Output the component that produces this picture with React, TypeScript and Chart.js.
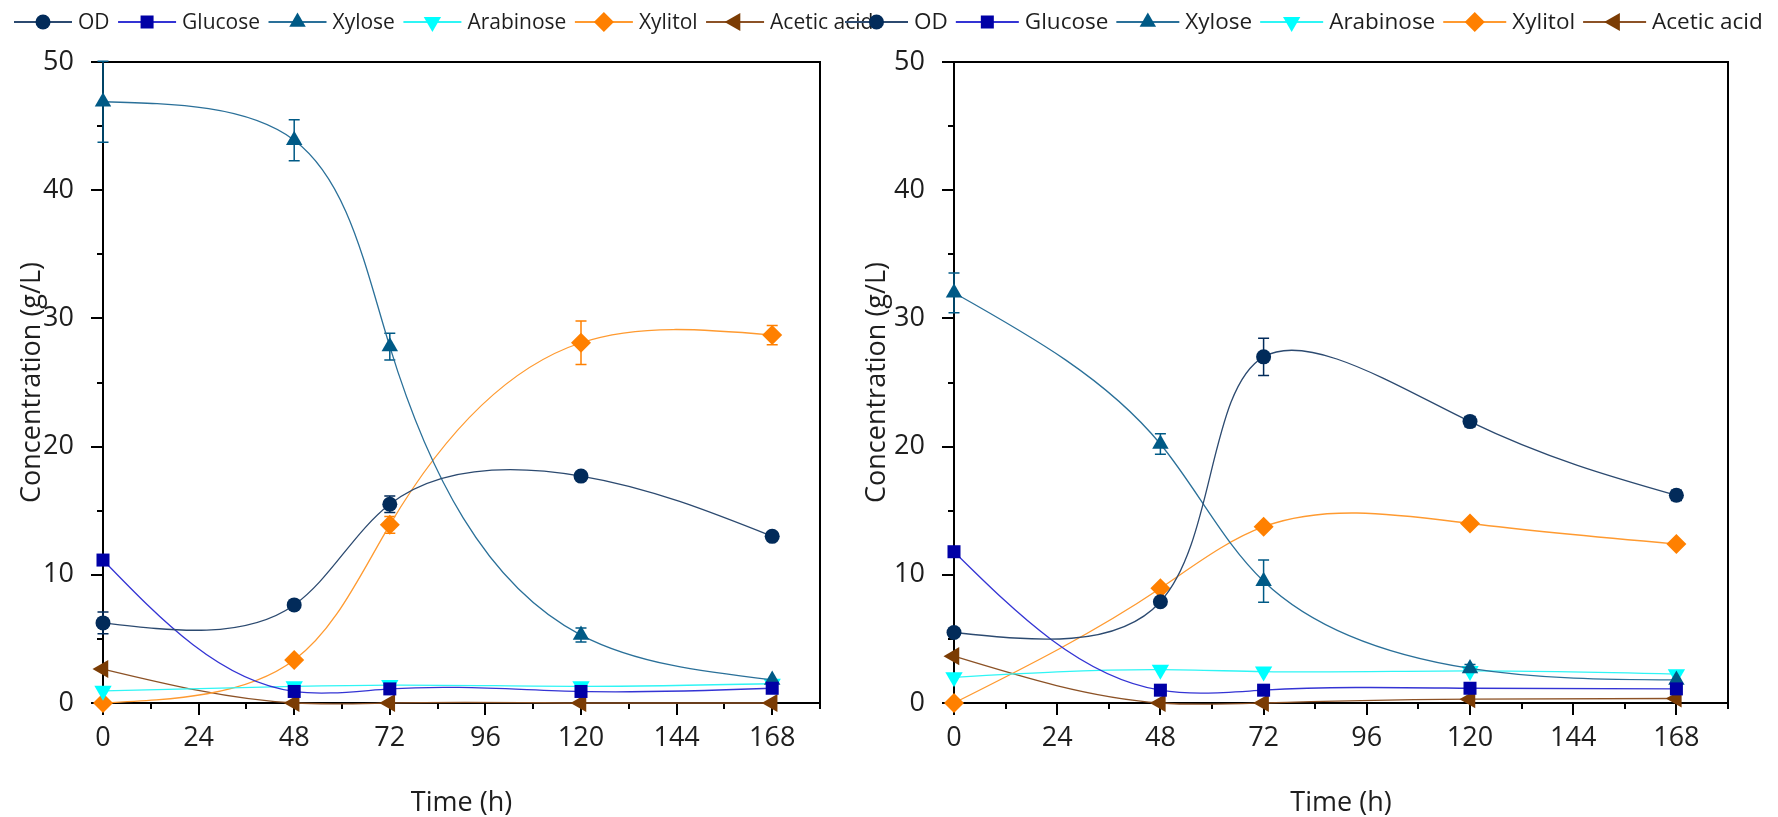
import React, { useEffect, useRef } from 'react';
import { Chart, registerables } from 'chart.js';

Chart.register(...registerables);

// ---------- data ----------
const TIMES = [0, 48, 72, 120, 168];
const X_TICKS = [0, 24, 48, 72, 96, 120, 144, 168];
const X_MINOR = [12, 36, 60, 84, 108, 132, 156, 180];
const Y_TICKS = [0, 10, 20, 30, 40, 50];
const Y_MINOR = [5, 15, 25, 35, 45];
const SERIES_NAMES = ['OD', 'Glucose', 'Xylose', 'Arabinose', 'Xylitol', 'Acetic acid'];
const X_TITLE = 'Time (h)';
const Y_TITLE = 'Concentration (g/L)';

// left panel
const L_OD = [6.25, 7.65, 15.5, 17.7, 13.0];
const L_OD_ERR = [0.85, 0, 0.65, 0, 0];
const L_GLUCOSE = [11.15, 0.9, 1.1, 0.9, 1.15];
const L_XYLOSE = [46.9, 43.9, 27.8, 5.3, 1.8];
const L_XYLOSE_ERR = [3.15, 1.6, 1.05, 0.55, 0];
const L_ARABINOSE = [0.95, 1.3, 1.4, 1.3, 1.5];
const L_XYLITOL = [0, 3.35, 13.9, 28.1, 28.7];
const L_XYLITOL_ERR = [0, 0, 0.65, 1.7, 0.75];
const L_ACETIC = [2.65, 0, 0, 0, 0];

// right panel
const R_OD = [5.5, 7.9, 27.0, 21.95, 16.2];
const R_OD_ERR = [0.3, 0, 1.45, 0.4, 0.4];
const R_GLUCOSE = [11.8, 1.0, 1.0, 1.15, 1.1];
const R_XYLOSE = [32.0, 20.2, 9.5, 2.7, 1.8];
const R_XYLOSE_ERR = [1.55, 0.8, 1.65, 0.3, 0];
const R_ARABINOSE = [2.0, 2.6, 2.45, 2.5, 2.25];
const R_XYLITOL = [0, 8.95, 13.75, 14.0, 12.4];
const R_ACETIC = [3.65, 0, 0, 0.3, 0.35];

// ---------- styles ----------
const MARKER_COLORS = ['#022b5a', '#0000a6', '#005a86', '#00ffff', '#ff8000', '#7b3c04'];
const LINE_COLORS = ['#2c4a70', '#3434d4', '#2a7099', '#2ff5f5', '#ff9a30', '#8c5226'];
const POINT_STYLES = ['circle', 'rect', 'triangle', 'triangle', 'rectRot', 'triangle'];
const POINT_ROTATIONS = [0, 0, 0, 180, 0, -90];
const POINT_RADII = [7.5, 9.2, 9.5, 10, 10, 10.5];
const FONT = '"Open Sans", "DejaVu Sans", sans-serif';
const TEXT_COLOR = '#1e1e1e';

function drawMarker(ctx: CanvasRenderingContext2D, style: string, rotation: number, r: number, x: number, y: number, color: string) {
  let rad = (rotation * Math.PI) / 180;
  ctx.beginPath();
  if (style === 'circle') {
    ctx.arc(x, y, r, 0, Math.PI * 2);
  } else if (style === 'rect') {
    const s = Math.SQRT1_2 * r;
    ctx.rect(x - s, y - s, 2 * s, 2 * s);
  } else if (style === 'rectRot') {
    ctx.moveTo(x - r, y);
    ctx.lineTo(x, y - r);
    ctx.lineTo(x + r, y);
    ctx.lineTo(x, y + r);
  } else {
    const t = (2 * Math.PI) / 3;
    ctx.moveTo(x + Math.sin(rad) * r, y - Math.cos(rad) * r);
    rad += t;
    ctx.lineTo(x + Math.sin(rad) * r, y - Math.cos(rad) * r);
    rad += t;
    ctx.lineTo(x + Math.sin(rad) * r, y - Math.cos(rad) * r);
  }
  ctx.closePath();
  ctx.fillStyle = color;
  ctx.fill();
}

// natural cubic spline second derivatives for values v over knot spacing h
function naturalM(v: number[], h: number[]): number[] {
  const n = v.length;
  const a: number[] = [], b: number[] = [], c: number[] = [], d: number[] = [];
  for (let i = 1; i < n - 1; i++) {
    a.push(h[i - 1]);
    b.push(2 * (h[i - 1] + h[i]));
    c.push(h[i]);
    d.push(6 * ((v[i + 1] - v[i]) / h[i] - (v[i] - v[i - 1]) / h[i - 1]));
  }
  const m = b.length;
  const M = new Array(n).fill(0);
  if (m === 0) return M;
  for (let i = 1; i < m; i++) {
    const w = a[i] / b[i - 1];
    b[i] -= w * c[i - 1];
    d[i] -= w * d[i - 1];
  }
  const sol = new Array(m).fill(0);
  sol[m - 1] = d[m - 1] / b[m - 1];
  for (let i = m - 2; i >= 0; i--) sol[i] = (d[i] - c[i] * sol[i + 1]) / b[i];
  for (let i = 0; i < m; i++) M[i + 1] = sol[i];
  return M;
}

// parametric (chord-length) natural cubic spline rendering of the connecting line
const splinePlugin = {
  id: 'parametricSpline',
  beforeDatasetDraw(chart: any, args: any) {
    const meta = args.meta;
    const line: any = meta.dataset;
    const pts: any[] = meta.data;
    if (!line || !pts || pts.length < 3) return;
    if (typeof line.updateControlPoints === 'function') line.updateControlPoints(chart.chartArea, meta.indexAxis);
    const n = pts.length;
    const xs = pts.map((p) => p.x);
    const ys = pts.map((p) => p.y);
    const h: number[] = [];
    for (let i = 0; i < n - 1; i++) h.push(Math.max(1e-6, Math.hypot(xs[i + 1] - xs[i], ys[i + 1] - ys[i])));
    const MX = naturalM(xs, h);
    const MY = naturalM(ys, h);
    for (let i = 0; i < n - 1; i++) {
      const sx = (xs[i + 1] - xs[i]) / h[i];
      const sy = (ys[i + 1] - ys[i]) / h[i];
      const dx0 = sx - (h[i] * (2 * MX[i] + MX[i + 1])) / 6;
      const dy0 = sy - (h[i] * (2 * MY[i] + MY[i + 1])) / 6;
      const dx1 = sx + (h[i] * (MX[i] + 2 * MX[i + 1])) / 6;
      const dy1 = sy + (h[i] * (MY[i] + 2 * MY[i + 1])) / 6;
      pts[i].cp2x = xs[i] + (dx0 * h[i]) / 3;
      pts[i].cp2y = ys[i] + (dy0 * h[i]) / 3;
      pts[i + 1].cp1x = xs[i + 1] - (dx1 * h[i]) / 3;
      pts[i + 1].cp1y = ys[i + 1] - (dy1 * h[i]) / 3;
    }
    pts[0].cp1x = xs[0];
    pts[0].cp1y = ys[0];
    pts[n - 1].cp2x = xs[n - 1];
    pts[n - 1].cp2y = ys[n - 1];
    line._pointsUpdated = true;
    line._path = undefined;
  },
};

type PanelCfg = {
  series: number[][];
  errors: (number[] | null)[];
  width: number;
  plotLeft: number;
  plotRight: number;
  yTitleX: number;
  legendStart: number;
  legendLine: number;
  legendGapText: number;
  legendGapAfter: number;
  legendFont: number;
};

function makeChart(canvas: HTMLCanvasElement, cfg: PanelCfg) {
  const H = 817;
  const plotTop = 62;
  const plotBottom = 703;

  const decorPlugin = {
    id: 'decor',
    beforeDatasetsDraw(chart: any) {
      const ctx: CanvasRenderingContext2D = chart.ctx;
      const { left, right, top, bottom } = chart.chartArea;
      const xs = chart.scales.x;
      const ys = chart.scales.y;
      ctx.save();
      ctx.strokeStyle = '#000';
      ctx.lineWidth = 2;
      ctx.strokeRect(left, top, right - left, bottom - top);
      ctx.beginPath();
      Y_TICKS.forEach((v) => {
        const py = Math.round(ys.getPixelForValue(v));
        ctx.moveTo(left - 12, py);
        ctx.lineTo(left, py);
      });
      Y_MINOR.forEach((v) => {
        const py = Math.round(ys.getPixelForValue(v));
        ctx.moveTo(left - 6, py);
        ctx.lineTo(left, py);
      });
      X_TICKS.forEach((v) => {
        const px = Math.round(xs.getPixelForValue(v));
        ctx.moveTo(px, bottom);
        ctx.lineTo(px, bottom + 12);
      });
      X_MINOR.forEach((v) => {
        const px = Math.round(xs.getPixelForValue(v));
        ctx.moveTo(px, bottom);
        ctx.lineTo(px, bottom + 6);
      });
      ctx.stroke();

      // error bars
      cfg.errors.forEach((errs, di) => {
        if (!errs) return;
        ctx.strokeStyle = MARKER_COLORS[di];
        ctx.lineWidth = 1.5;
        ctx.beginPath();
        errs.forEach((e, i) => {
          if (!e) return;
          const v = cfg.series[di][i];
          const px = xs.getPixelForValue(TIMES[i]);
          const p1 = ys.getPixelForValue(v + e);
          const p2 = ys.getPixelForValue(v - e);
          ctx.moveTo(px, p1);
          ctx.lineTo(px, p2);
          ctx.moveTo(px - 5.5, p1);
          ctx.lineTo(px + 5.5, p1);
          ctx.moveTo(px - 5.5, p2);
          ctx.lineTo(px + 5.5, p2);
        });
        ctx.stroke();
      });
      ctx.restore();
    },
    afterDraw(chart: any) {
      const ctx: CanvasRenderingContext2D = chart.ctx;
      const { left, right, top, bottom } = chart.chartArea;
      ctx.save();
      ctx.fillStyle = TEXT_COLOR;
      ctx.font = `27px ${FONT}`;
      ctx.textAlign = 'center';
      ctx.textBaseline = 'middle';
      ctx.fillText(X_TITLE, (left + right) / 2, 803);
      ctx.translate(cfg.yTitleX, (top + bottom) / 2);
      ctx.rotate(-Math.PI / 2);
      ctx.fillText(Y_TITLE, 0, 0);
      ctx.restore();

      // legend
      ctx.save();
      ctx.font = `${cfg.legendFont}px ${FONT}`;
      ctx.textBaseline = 'middle';
      ctx.textAlign = 'left';
      let x = cfg.legendStart;
      const y = 22;
      SERIES_NAMES.forEach((name, i) => {
        ctx.strokeStyle = LINE_COLORS[i];
        ctx.lineWidth = 2;
        ctx.beginPath();
        ctx.moveTo(x, y);
        ctx.lineTo(x + cfg.legendLine, y);
        ctx.stroke();
        drawMarker(ctx, POINT_STYLES[i], POINT_ROTATIONS[i], POINT_RADII[i], x + cfg.legendLine / 2, y, MARKER_COLORS[i]);
        x += cfg.legendLine + cfg.legendGapText;
        ctx.fillStyle = TEXT_COLOR;
        ctx.fillText(name, x, y + 1);
        x += ctx.measureText(name).width + cfg.legendGapAfter;
      });
      ctx.restore();
    },
  };

  const datasets = cfg.series.map((vals, i) => ({
    label: SERIES_NAMES[i],
    data: TIMES.map((t, j) => ({ x: t, y: vals[j] })),
    borderColor: LINE_COLORS[i],
    borderWidth: 1.3,
    backgroundColor: MARKER_COLORS[i],
    pointStyle: POINT_STYLES[i] as any,
    pointRotation: POINT_ROTATIONS[i],
    pointRadius: POINT_RADII[i],
    pointBackgroundColor: MARKER_COLORS[i],
    pointBorderColor: MARKER_COLORS[i],
    pointBorderWidth: 0,
    tension: 0.4,
    fill: false,
    clip: false as any,
  }));

  return new Chart(canvas, {
    type: 'line',
    data: { datasets },
    plugins: [splinePlugin, decorPlugin],
    options: {
      responsive: false,
      animation: false,
      events: [],
      layout: { padding: { top: plotTop, left: 0, right: cfg.width - cfg.plotRight, bottom: 0 } },
      plugins: { legend: { display: false }, tooltip: { enabled: false }, title: { display: false } },
      scales: {
        x: {
          type: 'linear',
          min: 0,
          max: 180,
          grid: { display: false },
          border: { display: false },
          afterBuildTicks: (s: any) => {
            s.ticks = X_TICKS.map((v) => ({ value: v }));
          },
          afterFit: (s: any) => {
            s.height = H - plotBottom;
          },
          ticks: {
            padding: 11,
            maxRotation: 0,
            autoSkip: false,
            color: TEXT_COLOR,
            font: { family: FONT, size: 27 },
          },
        },
        y: {
          type: 'linear',
          min: 0,
          max: 50,
          grid: { display: false },
          border: { display: false },
          afterBuildTicks: (s: any) => {
            s.ticks = Y_TICKS.map((v) => ({ value: v }));
          },
          afterFit: (s: any) => {
            s.width = cfg.plotLeft;
          },
          ticks: {
            padding: 21,
            color: TEXT_COLOR,
            font: { family: FONT, size: 27 },
          },
        },
      },
    } as any,
  });
}

export default function App() {
  const leftRef = useRef<HTMLCanvasElement>(null);
  const rightRef = useRef<HTMLCanvasElement>(null);

  useEffect(() => {
    const left = makeChart(leftRef.current!, {
      series: [L_OD, L_GLUCOSE, L_XYLOSE, L_ARABINOSE, L_XYLITOL, L_ACETIC],
      errors: [L_OD_ERR, null, L_XYLOSE_ERR, null, L_XYLITOL_ERR, null],
      width: 900,
      plotLeft: 103,
      plotRight: 820,
      yTitleX: 32,
      legendStart: 14,
      legendLine: 58,
      legendGapText: 6,
      legendGapAfter: 8.5,
      legendFont: 21,
    });
    const right = makeChart(rightRef.current!, {
      series: [R_OD, R_GLUCOSE, R_XYLOSE, R_ARABINOSE, R_XYLITOL, R_ACETIC],
      errors: [R_OD_ERR, null, R_XYLOSE_ERR, null, null, null],
      width: 948,
      plotLeft: 124,
      plotRight: 898,
      yTitleX: 47,
      legendStart: 15,
      legendLine: 63,
      legendGapText: 6,
      legendGapAfter: 8,
      legendFont: 22.5,
    });
    return () => {
      left.destroy();
      right.destroy();
    };
  }, []);

  return (
    <div style={{ position: 'absolute', left: 0, top: 0, width: 1778, height: 817, background: '#fff', overflow: 'hidden' }}>
      <canvas ref={leftRef} width={900} height={817} style={{ position: 'absolute', left: 0, top: 0 }} />
      <canvas ref={rightRef} width={948} height={817} style={{ position: 'absolute', left: 830, top: 0 }} />
    </div>
  );
}
